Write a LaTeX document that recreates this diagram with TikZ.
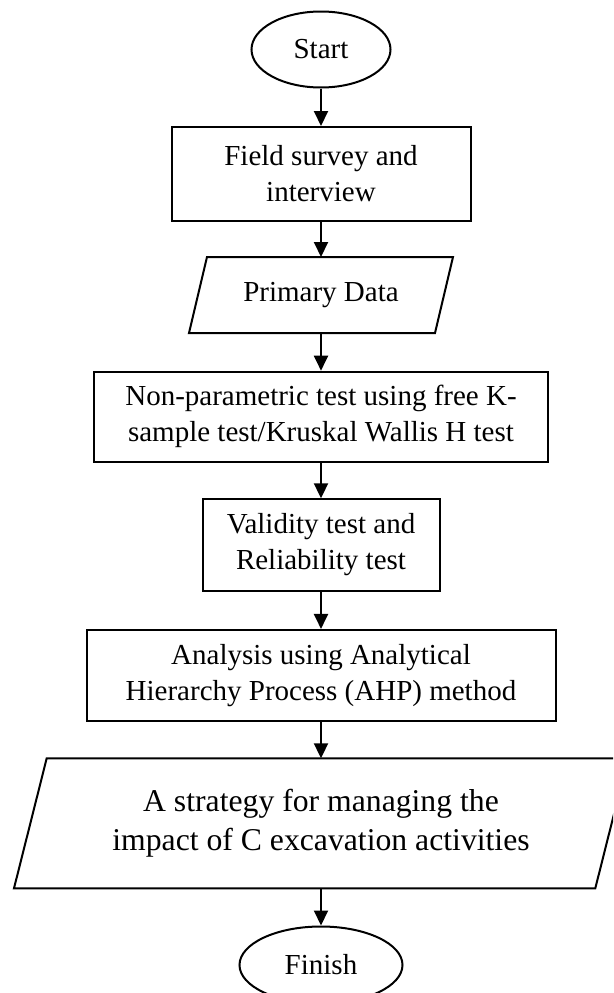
\documentclass[tikz,border=0pt]{standalone}
\usepackage{fontspec}
\setmainfont{Liberation Serif}
\usetikzlibrary{arrows.meta,shapes.geometric}
\begin{document}
\begin{tikzpicture}[x=1pt,y=-1pt,
  line width=2pt,
  base/.style={font=\fontsize{29}{36}\selectfont, align=center, inner sep=0pt},
  terminal/.style={base, draw, ellipse, minimum width=139pt, minimum height=76pt},
  procbox/.style={base, draw, rectangle},
  iobox/.style={base, rectangle},
  flow/.style={-{Triangle[length=15pt,width=14pt]}, line width=2pt}
]
\clip (0,0) rectangle (613,993);
\fill[white] (0,0) rectangle (613,993);
\node[terminal] (start) at (321,49.5) {Start};
\node[procbox, minimum width=299pt, minimum height=94pt] (field) at (321,174) {Field survey and\\interview};
\node[iobox, minimum width=262pt, minimum height=74pt] (prim) at (321,295) {Primary Data};
\draw ([xshift=18pt]prim.north west) -- (prim.north east) -- ([xshift=-18pt]prim.south east) -- (prim.south west) -- cycle;
\node[procbox, minimum width=454pt, minimum height=90pt] (np) at (321,416.7) {Non-parametric test using free K-\\sample test/Kruskal Wallis H test};
\node[procbox, minimum width=237pt, minimum height=91.4pt] (val) at (321,545) {Validity test and\\Reliability test};
\node[procbox, minimum width=469pt, minimum height=90.7pt] (ahp) at (321,675.3) {Analysis using Analytical\\Hierarchy Process (AHP) method};
\node[iobox, font=\fontsize{31.7}{39.3}\selectfont, minimum width=612pt, minimum height=128pt] (strat) at (321,823.3) {A strategy for managing the\\impact of C excavation activities};
\draw ([xshift=32.7pt]strat.north west) -- (strat.north east) -- ([xshift=-32.7pt]strat.south east) -- (strat.south west) -- cycle;
\node[terminal, minimum width=163pt, minimum height=77pt] (finish) at (321,965) {Finish};
\draw[flow] (start) -- (field);
\draw[flow] (field) -- (prim);
\draw[flow] (prim) -- (np);
\draw[flow] (np) -- (val);
\draw[flow] (val) -- (ahp);
\draw[flow] (ahp) -- (strat);
\draw[flow] (strat) -- (finish);
\end{tikzpicture}
\end{document}
